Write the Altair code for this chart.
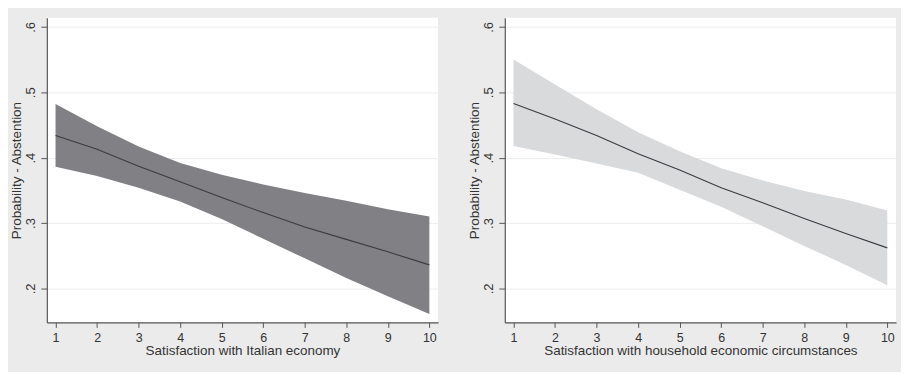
import altair as alt
import pandas as pd

x_vals = [1, 2, 3, 4, 5, 6, 7, 8, 9, 10]

# Left panel: Satisfaction with Italian economy
left_mid = [0.434, 0.413, 0.387, 0.363, 0.339, 0.316, 0.294, 0.275, 0.256, 0.236]
left_hi = [0.482, 0.448, 0.417, 0.392, 0.374, 0.359, 0.346, 0.334, 0.321, 0.310]
left_lo = [0.386, 0.372, 0.354, 0.333, 0.306, 0.276, 0.246, 0.216, 0.188, 0.161]

# Right panel: Satisfaction with household economic circumstances
right_mid = [0.483, 0.459, 0.434, 0.406, 0.381, 0.354, 0.331, 0.307, 0.284, 0.262]
right_hi = [0.550, 0.512, 0.474, 0.439, 0.410, 0.384, 0.365, 0.349, 0.336, 0.319]
right_lo = [0.418, 0.405, 0.391, 0.377, 0.351, 0.325, 0.295, 0.265, 0.236, 0.205]

y_ticks = [0.2, 0.3, 0.4, 0.5, 0.6]
y_title = "Probability - Abstention"
left_xtitle = "Satisfaction with Italian economy"
right_xtitle = "Satisfaction with household economic circumstances"

FONT = "Liberation Sans"


def panel(mid, hi, lo, xtitle, band_color):
    df = pd.DataFrame({"x": x_vals, "mid": mid, "hi": hi, "lo": lo})
    xs = alt.Scale(domain=[0.79, 10.21], nice=False, zero=False)
    ys = alt.Scale(domain=[0.148, 0.614], nice=False, zero=False)
    xaxis = alt.Axis(
        values=x_vals, title=xtitle, grid=False, tickSize=5,
        labelPadding=4, titlePadding=0, format="d", labelFontSize=12.5,
    )
    yaxis = alt.Axis(
        values=y_ticks, title=y_title, grid=True, tickSize=6,
        labelAngle=-90, labelAlign="center", labelBaseline="middle",
        labelPadding=10, titlePadding=1,
        labelExpr="substring(format(datum.value, '.1f'), 1)",
    )
    band = alt.Chart(df).mark_area(
        color=band_color, opacity=1
    ).encode(
        x=alt.X("x:Q", scale=xs, axis=xaxis),
        y=alt.Y("lo:Q", scale=ys, axis=yaxis),
        y2="hi:Q",
    )
    line = alt.Chart(df).mark_line(color="#3c3c40", strokeWidth=1.1).encode(
        x=alt.X("x:Q", scale=xs),
        y=alt.Y("mid:Q", scale=ys),
    )
    return (band + line).properties(width=393, height=306)


left = panel(left_mid, left_hi, left_lo, left_xtitle, "#808085")
right = panel(right_mid, right_hi, right_lo, right_xtitle, "#d9dadc")

chart = alt.hconcat(left, right, spacing=30).properties(
    background="#ebebeb",
    padding={"left": 2, "top": 9, "right": 5, "bottom": 14},
).configure_view(
    stroke=None, fill="white"
).configure_axis(
    labelFont=FONT, titleFont=FONT, labelFontSize=13, titleFontSize=13.5,
    labelColor="#333333", titleColor="#333333", titleFontWeight="normal",
    domainColor="#555555", tickColor="#555555", domainWidth=1.2,
    gridColor="#ececec", gridWidth=1,
)

chart.save("out.html", embed_options={"renderer": "svg", "actions": False})
